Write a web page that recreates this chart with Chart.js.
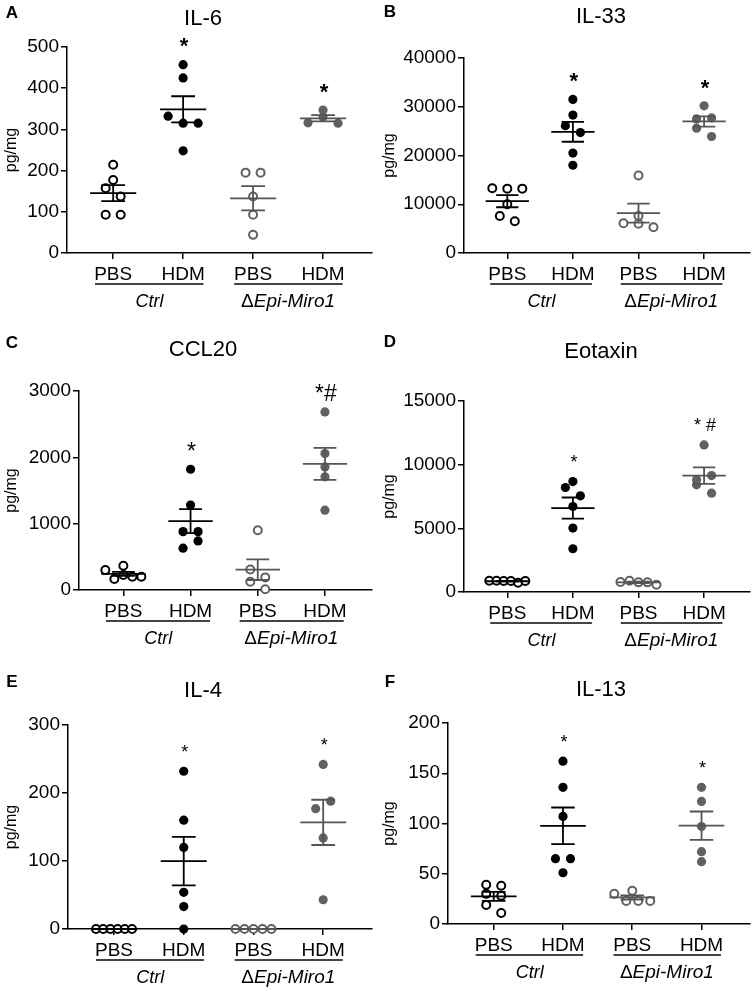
<!DOCTYPE html>
<html lang="en">
<head>
    <meta charset="utf-8" />
    <title>Cytokines in lung homogenate</title>
    <script src="https://cdn.jsdelivr.net/npm/chart.js"></script>
    <style>
        body {
            margin: 0;
            background: #fff;
        }

        #wrap {
            position: relative;
            width: 756px;
            height: 991px;
        }

        canvas {
            position: absolute;
        }
    </style>
</head>
<body>
    <div id="wrap"></div>
    <script>
        // group labels under each column
        const groups = ['PBS', 'HDM', 'PBS', 'HDM'];
        const genotypes = ['Ctrl', 'Epi-Miro1'];
        const titles = ['IL-6', 'IL-33', 'CCL20', 'Eotaxin', 'IL-4', 'IL-13'];
        const letters = ['A', 'B', 'C', 'D', 'E', 'F'];
        const yMax = [500, 40000, 3000, 15000, 300, 200];
        const yStep = [100, 10000, 1000, 5000, 100, 50];

        // values per panel: [Ctrl PBS, Ctrl HDM, KO PBS, KO HDM] (pg/mg)
        const il6 = [[214, 177, 157, 137, 93, 93], [457, 425, 332, 315, 315, 248], [195, 195, 137, 93, 44], [316, 330, 347, 315]];
        const il33 = [[13300, 13200, 13200, 10000, 7600, 6500], [31500, 28300, 26100, 24700, 20500, 18000], [15900, 7600, 6100, 6000, 5300], [30200, 27500, 27700, 25600, 23900]];
        const ccl20 = [[300, 365, 165, 225, 200, 200], [1820, 1280, 630, 740, 880, 880], [900, 310, 190, 125, 10], [2684, 2057, 1856, 1706, 1204]];
        const eotaxin = [[880, 880, 860, 860, 720, 860], [8205, 8675, 7550, 6715, 5017, 3397], [784, 888, 758, 758, 575], [11550, 8806, 9146, 8414, 7760]];
        const il4 = [[0, 0, 0, 0, 0, 0], [232, 160, 120, 54, 33, 0], [0, 0, 0, 0, 0], [242, 177, 188, 134, 43]];
        const il13 = [[39, 38, 30, 28, 19, 11], [162, 136, 107, 65, 65, 51], [33, 30, 23, 23, 23], [136, 122, 97, 72, 62]];
        const panelData = [il6, il33, ccl20, eotaxin, il4, il13];

        // significance marks above each group
        const marks = [
            ['', '*', '', '*'],
            ['', '*', '', '*'],
            ['', '*', '', '*#'],
            ['', '*', '', '* #'],
            ['', '*', '', '*'],
            ['', '*', '', '*']
        ];

        const FONT = '"Liberation Sans", Arial, Helvetica, sans-serif';
        Chart.defaults.font.family = FONT;
        Chart.defaults.color = '#000';

        const groupStyle = [
            { fill: '#fff', stroke: '#000', line: '#000', r: 4, bw: 2 },
            { fill: '#000', stroke: '#000', line: '#000', r: 4.6, bw: 0 },
            { fill: '#fff', stroke: '#616161', line: '#555', r: 4, bw: 2 },
            { fill: '#616161', stroke: '#616161', line: '#555', r: 4.6, bw: 0 }
        ];

        // canvas placement and plot area inside each canvas
        const panels = [
            { left: 0, top: 0, h: 325, areaLeft: 67, areaTop: 47, areaBottom: 253, titleX: 203, titleY: 19, letterY: 13, star: 'bold 22px ' },
            { left: 378, top: 0, h: 325, areaLeft: 86, areaTop: 58, areaBottom: 253, titleX: 223, titleY: 17, letterY: 12, star: 'bold 22px ' },
            { left: 0, top: 325, h: 330, areaLeft: 79, areaTop: 66, areaBottom: 265, titleX: 203, titleY: 25, letterY: 18, star: '23px ' },
            { left: 378, top: 325, h: 330, areaLeft: 86, areaTop: 76, areaBottom: 267, titleX: 223, titleY: 27, letterY: 17, star: '18px ' },
            { left: 0, top: 655, h: 336, areaLeft: 68, areaTop: 70, areaBottom: 274, titleX: 203, titleY: 36, letterY: 27, star: '18px ' },
            { left: 378, top: 655, h: 336, areaLeft: 70, areaTop: 68, areaBottom: 269, titleX: 223, titleY: 35, letterY: 27, star: '18px ' }
        ];

        function mean(a) {
            return a.reduce((s, v) => s + v, 0) / a.length;
        }

        function sem(a) {
            const m = mean(a);
            const sd = Math.sqrt(a.reduce((s, v) => s + (v - m) * (v - m), 0) / (a.length - 1));
            return sd / Math.sqrt(a.length);
        }

        // title, letter, group underlines and significance marks
        const decor = {
            id: 'decor',
            afterDraw(chart, args, o) {
                const ctx = chart.ctx;
                const a = chart.chartArea;
                const xs = chart.scales.x, ys = chart.scales.y;
                ctx.save();
                ctx.fillStyle = '#000';
                ctx.textAlign = 'center';
                ctx.textBaseline = 'middle';
                ctx.font = 'bold 17px ' + FONT;
                ctx.fillText(o.letter, 12, o.letterY);
                ctx.font = '22px ' + FONT;
                ctx.fillText(o.title, o.titleX, o.titleY);

                // genotype underlines
                ctx.strokeStyle = '#444';
                ctx.lineWidth = 2;
                [[-0.26, 1.29], [1.73, 3.28]].forEach(([x0, x1]) => {
                    ctx.beginPath();
                    ctx.moveTo(xs.getPixelForValue(x0), a.bottom + 31);
                    ctx.lineTo(xs.getPixelForValue(x1), a.bottom + 31);
                    ctx.stroke();
                });

                const ly = a.bottom + 49;
                ctx.font = 'italic 18px ' + FONT;
                ctx.fillText(genotypes[0], xs.getPixelForValue(0.52), ly);
                ctx.textAlign = 'left';
                ctx.font = '19px ' + FONT;
                const w1 = ctx.measureText('\u0394').width;
                ctx.font = 'italic 19px ' + FONT;
                const w2 = ctx.measureText(genotypes[1]).width;
                const sx = xs.getPixelForValue(2.5) - (w1 + w2) / 2;
                ctx.font = '19px ' + FONT;
                ctx.fillText('\u0394', sx, ly);
                ctx.font = 'italic 19px ' + FONT;
                ctx.fillText(genotypes[1], sx + w1, ly);

                // significance
                ctx.textAlign = 'center';
                ctx.textBaseline = 'alphabetic';
                ctx.font = o.star + FONT;
                const size = parseFloat(o.star.replace('bold ', ''));
                o.marks.forEach((m, g) => {
                    if (!m) return;
                    const top = ys.getPixelForValue(Math.max(...o.values[g]));
                    ctx.fillText(m, xs.getPixelForValue(g) + 1, top - 24 + 0.58 * size);
                });
                ctx.restore();
            }
        };

        // spread points of similar value side by side, like a scatter dot plot
        function swarm(chart) {
            const xs = chart.scales.x, ys = chart.scales.y;
            const unit = xs.getPixelForValue(1) - xs.getPixelForValue(0);
            chart.data.datasets.forEach(ds => {
                if (!ds.swarm) return;
                const pts = ds.data.map((p, i) => ({ p, i, py: ys.getPixelForValue(p.y) }));
                pts.sort((a, b) => b.py - a.py || a.i - b.i);
                const rows = [];
                pts.forEach(q => {
                    const row = rows[rows.length - 1];
                    if (row && row[0].py - q.py < 9) row.push(q);
                    else rows.push([q]);
                });
                rows.forEach(row => {
                    row.sort((a, b) => a.i - b.i);
                    const n = row.length;
                    const step = n > 1 ? Math.min(15, 36 / (n - 1)) : 0;
                    row.forEach((q, k) => {
                        q.p.x = ds.cat + (k - (n - 1) / 2) * step / unit;
                    });
                });
            });
            chart.update('none');
        }

        const wrap = document.getElementById('wrap');

        panels.forEach((p, idx) => {
            const canvas = document.createElement('canvas');
            canvas.width = 378;
            canvas.height = p.h;
            canvas.style.left = p.left + 'px';
            canvas.style.top = p.top + 'px';
            wrap.appendChild(canvas);

            const values = panelData[idx];
            const datasets = [];
            values.forEach((vals, g) => {
                const st = groupStyle[g];
                datasets.push({
                    type: 'scatter',
                    data: vals.map(v => ({ x: g, y: v })),
                    cat: g,
                    swarm: true,
                    pointRadius: st.r,
                    pointBackgroundColor: st.fill,
                    pointBorderColor: st.stroke,
                    pointBorderWidth: st.bw,
                    order: 1,
                    clip: false
                });
                const m = mean(vals), s = sem(vals);
                datasets.push({
                    type: 'line',
                    showLine: true,
                    data: [
                        { x: g - 0.33, y: m }, { x: g + 0.33, y: m }, { x: g, y: null },
                        { x: g - 0.17, y: m + s }, { x: g + 0.17, y: m + s }, { x: g, y: null },
                        { x: g - 0.17, y: m - s }, { x: g + 0.17, y: m - s }, { x: g, y: null },
                        { x: g, y: m - s }, { x: g, y: m + s }
                    ],
                    borderColor: st.line,
                    borderWidth: 1.8,
                    pointRadius: 0,
                    fill: false,
                    spanGaps: false,
                    order: 0,
                    clip: false
                });
            });

            const chart = new Chart(canvas, {
                type: 'scatter',
                data: { datasets },
                options: {
                    responsive: false,
                    animation: false,
                    devicePixelRatio: 1,
                    layout: { padding: { top: p.areaTop, left: 0, right: 1, bottom: 0 } },
                    plugins: {
                        legend: { display: false },
                        tooltip: { enabled: false },
                        decor: {
                            letter: letters[idx],
                            title: titles[idx],
                            titleX: p.titleX,
                            titleY: p.titleY,
                            letterY: p.letterY,
                            star: p.star,
                            marks: marks[idx],
                            values: values
                        }
                    },
                    scales: {
                        x: {
                            type: 'linear',
                            min: -0.66,
                            max: 3.7,
                            afterBuildTicks: s => { s.ticks = [0, 1, 2, 3].map(v => ({ value: v })); },
                            afterFit: s => { s.height = p.h - p.areaBottom; },
                            ticks: {
                                callback: v => groups[v],
                                font: { size: 19 },
                                color: '#000',
                                padding: 4,
                                autoSkip: false,
                                maxRotation: 0
                            },
                            grid: { drawOnChartArea: false, tickLength: 6, color: '#000', lineWidth: 1.5 },
                            border: { display: true, color: '#000', width: 1.5 }
                        },
                        y: {
                            min: 0,
                            max: yMax[idx],
                            afterFit: s => { s.width = p.areaLeft; },
                            ticks: {
                                stepSize: yStep[idx],
                                callback: v => String(v),
                                font: { size: 19 },
                                color: '#000',
                                padding: 2
                            },
                            title: {
                                display: true,
                                text: 'pg/mg',
                                font: { size: 16 },
                                color: '#000',
                                padding: { top: 2, bottom: 0 }
                            },
                            grid: { drawOnChartArea: false, tickLength: 6, color: '#000', lineWidth: 1.5 },
                            border: { display: true, color: '#000', width: 1.5 }
                        }
                    }
                },
                plugins: [decor]
            });
            swarm(chart);
        });
    </script>
</body>
</html>
